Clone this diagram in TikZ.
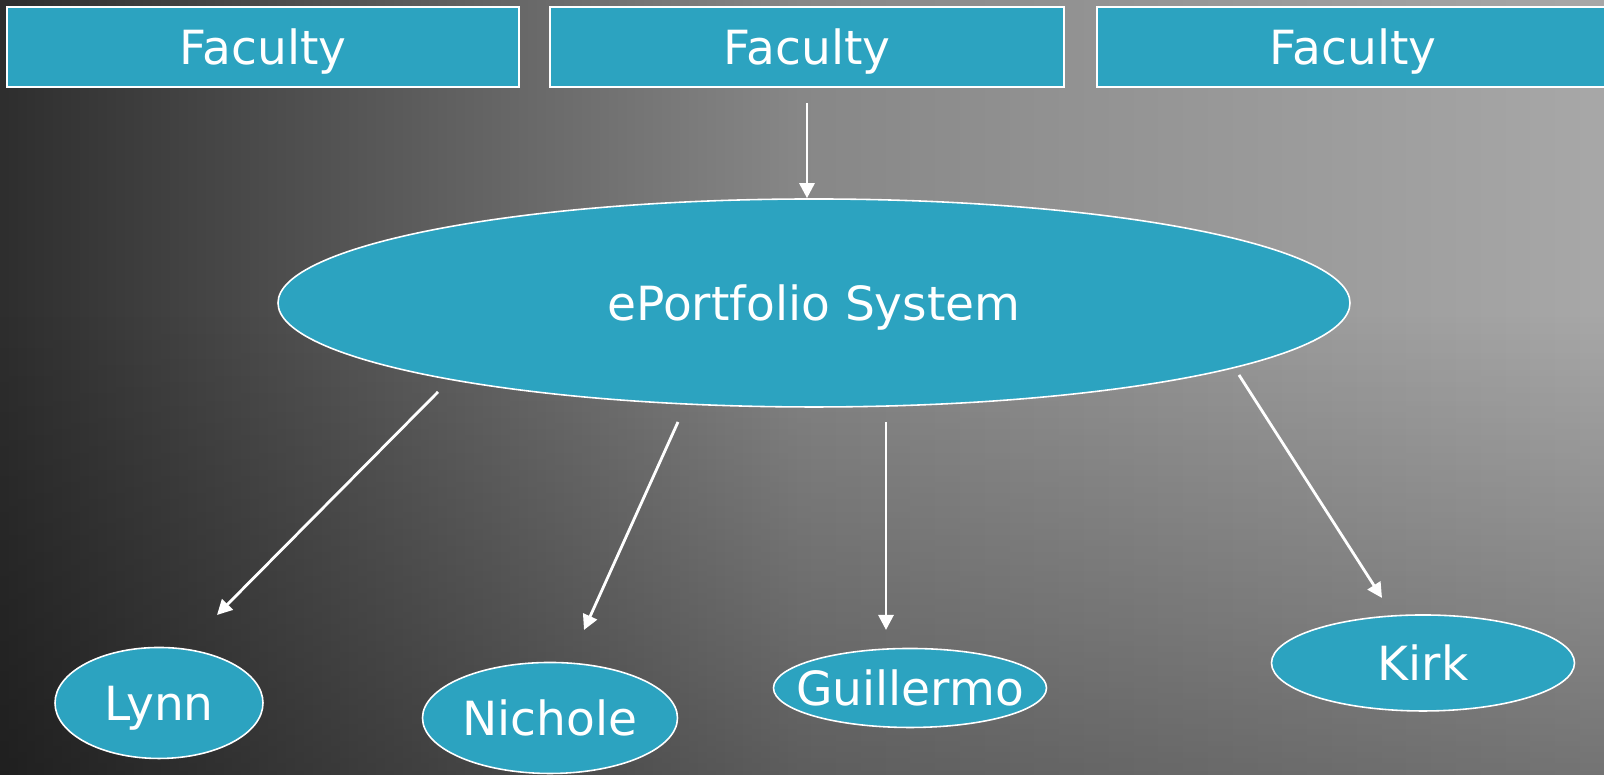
\documentclass[tikz,border=0pt]{standalone}
\usepackage{fontspec}
\setmainfont{DejaVu Sans}
\usepackage{xcolor}
\usepackage{tikz}
\usetikzlibrary{arrows.meta, positioning, shapes.geometric, fadings}

\definecolor{boxblue}{RGB}{44,163,192}
\tikzfading[name=darkbottom, top color=transparent!100, bottom color=transparent!0]

\begin{document}
\begin{tikzpicture}[
    >={Triangle[length=1.5mm, width=1.5mm]},
    faculty/.style={rectangle, draw=white, fill=boxblue, line width=0.6pt, minimum width=5.12cm, minimum height=0.8cm, inner sep=0pt, text depth=0pt, text=white, font=\fontsize{13.4}{16}\selectfont},
    blob/.style={ellipse, draw=white, fill=boxblue, line width=0.45pt, inner sep=0pt, text depth=0pt, text=white, font=\fontsize{13.4}{16}\selectfont},
    link/.style={->, draw=white, line width=0.8pt}
]

% background
\useasboundingbox (0,0) rectangle (16.04,7.75);
\shade[left color=black!83, right color=black!34, middle color=black!47] (-0.2,-0.2) rectangle (16.24,7.95);
\fill[black, fill opacity=0.32, path fading=darkbottom] (-0.2,-0.2) rectangle (16.24,4.6);

\node[faculty] (fac1) at (2.63,7.28) {Faculty};
\node[faculty, minimum width=5.14cm] (fac2) at (8.07,7.28) {Faculty};
\node[faculty] (fac3) at (13.53,7.28) {Faculty};

\node[blob, minimum width=10.72cm, minimum height=2.08cm] (sys) at (8.14,4.72) {ePortfolio System};

\node[blob, minimum width=2.08cm, minimum height=1.11cm] (lynn) at (1.59,0.72) {Lynn};
\node[blob, minimum width=2.55cm, minimum height=1.11cm] (nichole) at (5.50,0.57) {Nichole};
\node[blob, minimum width=2.73cm, minimum height=0.79cm] (guillermo) at (9.10,0.87) {\makebox[0pt]{Guillermo}};
\node[blob, minimum width=3.03cm, minimum height=0.96cm] (kirk) at (14.23,1.12) {Kirk};

% free ends of the arrows
\coordinate (s1) at (4.38,3.83); \coordinate (t1) at (2.17,1.60);
\coordinate (s2) at (6.78,3.53); \coordinate (t2) at (5.84,1.45);
\coordinate (s3) at (8.86,3.53); \coordinate (t3) at (8.86,1.45);
\coordinate (s4) at (12.39,4.00); \coordinate (t4) at (13.82,1.77);

\draw[link, shorten <=1.5mm] (fac2.south) -- (fac2.south |- sys.north);
\draw[link] (s1) -- (t1);
\draw[link] (s2) -- (t2);
\draw[link] (s3) -- (t3);
\draw[link] (s4) -- (t4);

\end{tikzpicture}
\end{document}
